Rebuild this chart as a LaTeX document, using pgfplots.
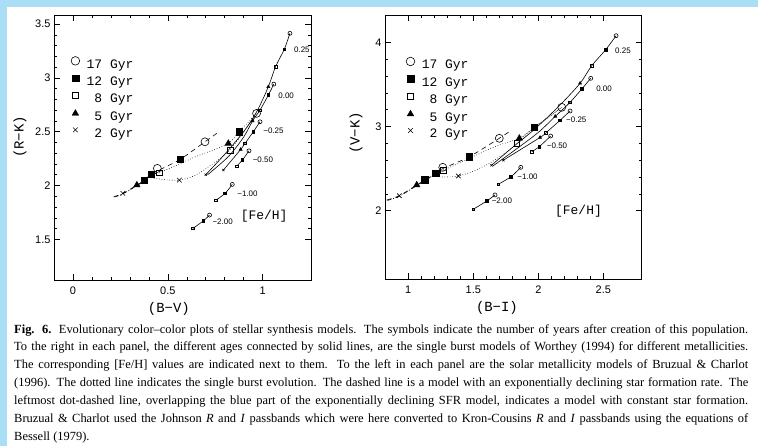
\documentclass[border=0pt]{standalone}
\usepackage{fontspec}
\setmainfont{Liberation Serif}
\newfontfamily\sansf{Liberation Sans}
\newfontfamily\monof{Liberation Mono}
\usepackage{pgfplots}
\pgfplotsset{compat=1.18}
\definecolor{bandblue}{RGB}{170,222,247}

% small marks of the Worthey tracks, big marks of the Bruzual & Charlot tracks
\pgfplotsset{
  panel/.style={scale only axis, anchor=south west, clip=false,
    axis line style={line width=0.7pt}, tick align=inside,
    major tick length=6bp, minor tick length=3bp, minor tick num=4,
    tick style={line width=0.5pt,black},
    /pgf/number format/assume math mode=true,
    tick label style={font=\sansf\fontsize{11}{11}\selectfont},
    xticklabel style={yshift=-3bp},
    label style={font=\monof\fontsize{14}{14}\selectfont},
    legend style={draw=none, fill=none, anchor=north west, inner sep=0pt,
      font=\monof\fontsize{13}{13}\selectfont, row sep=4.2bp,
      nodes={inner sep=0pt, text height=9bp, text depth=2.5bp}},
    legend cell align=left,
    legend image code/.code={\path (0bp,0bp) (17bp,0bp);
      \draw[##1] plot coordinates {(6bp,4.2bp)};}},
  wtrack/.style={scatter, smooth, forget plot, black, line width=0.6pt,
    point meta=explicit symbolic,
    scatter/classes={
      x={mark=x, mark size=1.6bp, black},
      t={mark=triangle*, mark size=1.7bp, black},
      q={mark=square, mark size=1.3bp, black},
      s={mark=square*, mark size=1.3bp, black},
      c={mark=o, mark size=2bp, black},
      n={mark=*, mark size=0.01bp, opacity=0}}},
  bcmarks/.style={scatter, only marks, forget plot, line width=0.6pt,
    point meta=explicit symbolic,
    scatter/classes={
      x={mark=x, mark size=3.2bp, black},
      t={mark=triangle*, mark size=3.6bp, black},
      q={mark=square, mark size=2.8bp, black, fill=white},
      s={mark=square*, mark size=3.2bp, black},
      c={mark=o, mark size=4bp, black}}},
}
\tikzset{
  flabel/.style={anchor=west, inner sep=0pt, font=\sansf\fontsize{8}{8}\selectfont},
  fehlabel/.style={anchor=west, inner sep=0pt, font=\monof\fontsize{13}{13}\selectfont},
}

\begin{document}
\begin{tikzpicture}
\path[use as bounding box] (0,0) rectangle (758bp,-446bp);
\fill[bandblue] (0,0) rectangle (758bp,-7bp);
\fill[bandblue] (0,0) rectangle (7bp,-446bp);

% ---------------- left panel: (B-V) vs (R-K)
\begin{axis}[panel, at={(54bp,-280bp)}, width=257bp, height=265bp,
  xmin=-0.1, xmax=1.255, ymin=1.122, ymax=3.584,
  xtick={0,0.5,1}, ytick={1.5,2,2.5,3,3.5},
  xlabel={(B−V)}, ylabel={(R−K)},
  xlabel style={at={(axis description cs:0.447,-0.108)}, anchor=center},
  ylabel style={at={(axis description cs:-0.132,0.54)}, anchor=center},
  legend style={at={(axis description cs:0.058,0.844)}}]
\addlegendimage{only marks, mark=o, mark size=4.3bp, line width=0.6pt}
\addlegendentry{17 Gyr}
\addlegendimage{only marks, mark=square*, mark size=3.3bp}
\addlegendentry{12 Gyr}
\addlegendimage{only marks, mark=square, mark size=3bp, line width=0.6pt}
\addlegendentry{\phantom{1}8 Gyr}
\addlegendimage{only marks, mark=triangle*, mark size=3.8bp}
\addlegendentry{\phantom{1}5 Gyr}
\addlegendimage{only marks, mark=x, mark size=3.3bp, line width=0.6pt}
\addlegendentry{\phantom{1}2 Gyr}

% exponentially declining SFR (dashed)
\addplot[forget plot, black, line width=0.6pt, dash pattern=on 5bp off 4bp, smooth] coordinates {
  (0.214,1.895) (0.263,1.927) (0.337,2.004) (0.377,2.05) (0.412,2.106)
  (0.45,2.14) (0.565,2.243) (0.696,2.406) (0.758,2.484)};
% constant SFR (dot-dashed)
\addplot[forget plot, black, line width=0.6pt, dash pattern=on 4bp off 2bp on 1bp off 2bp, smooth] coordinates {
  (0.22,1.893) (0.263,1.922) (0.337,1.998) (0.377,2.043) (0.412,2.10) (0.456,2.118)};
% single burst (dotted)
\addplot[forget plot, black, line width=0.6pt, dotted, smooth] coordinates {
  (0.40,2.075) (0.48,2.055) (0.561,2.05) (0.64,2.09) (0.72,2.18)
  (0.79,2.27) (0.828,2.329) (0.88,2.45) (0.93,2.57) (0.968,2.67)};
\addplot[forget plot, black, line width=0.6pt, dotted, smooth] coordinates {
  (0.456,2.118) (0.55,2.19) (0.65,2.27) (0.74,2.33) (0.819,2.391)
  (0.877,2.50) (0.93,2.60) (0.968,2.67)};
\addplot[bcmarks] table[x=x, y=y, meta=m] {
x     y     m
0.263 1.927 x
0.337 2.004 t
0.377 2.05  s
0.412 2.106 s
0.456 2.118 q
0.445 2.159 c
0.565 2.243 s
0.696 2.406 c
0.561 2.05  x
0.828 2.329 q
0.819 2.391 t
0.877 2.50  s
0.968 2.67  c
};

% Worthey single burst tracks
\addplot[wtrack] table[x=x, y=y, meta=m] {
x     y     m
0.70  2.10  x
0.80  2.29  n
0.90  2.50  n
0.97  2.69  n
1.03  2.917 t
1.068 3.103 q
1.114 3.265 s
1.144 3.414 c
};
\addplot[wtrack] table[x=x, y=y, meta=m] {
x     y     m
0.71  2.10  n
0.82  2.27  n
0.90  2.45  n
0.947 2.60  t
0.986 2.70  q
1.03  2.84  s
1.059 2.942 c
};
\addplot[wtrack] table[x=x, y=y, meta=m] {
x     y     m
0.793 2.143 x
0.884 2.335 t
0.907 2.391 q
0.951 2.50  s
0.986 2.592 c
};
\addplot[wtrack] table[x=x, y=y, meta=m] {
x     y     m
0.863 2.18  q
0.893 2.236 s
0.928 2.322 c
};
\addplot[wtrack] table[x=x, y=y, meta=m] {
x     y     m
0.754 1.864 q
0.802 1.927 s
0.84  2.01  c
};
\addplot[wtrack] table[x=x, y=y, meta=m] {
x     y     m
0.632 1.601 q
0.688 1.672 s
0.72  1.725 c
};
\node[flabel] at (axis cs:1.165,3.26) {0.25};
\node[flabel] at (axis cs:1.082,2.83) {0.00};
\node[flabel] at (axis cs:1.003,2.506) {−0.25};
\node[flabel] at (axis cs:0.947,2.236) {−0.50};
\node[flabel] at (axis cs:0.866,1.92) {−1.00};
\node[flabel] at (axis cs:0.735,1.66) {−2.00};
\node[fehlabel] at (axis cs:0.884,1.718) {[Fe/H]};
\end{axis}

% ---------------- right panel: (B-I) vs (V-K)
\begin{axis}[panel, at={(385bp,-279bp)}, width=256.7bp, height=264bp,
  xmin=0.821, xmax=2.795, ymin=1.189, ymax=4.324,
  xtick={1,1.5,2,2.5}, ytick={2,3,4},
  xlabel={(B−I)}, ylabel={(V−K)},
  xlabel style={at={(axis description cs:0.436,-0.108)}, anchor=center},
  ylabel style={at={(axis description cs:-0.113,0.553)}, anchor=center},
  legend style={at={(axis description cs:0.074,0.841)}}]
\addlegendimage{only marks, mark=o, mark size=4.3bp, line width=0.6pt}
\addlegendentry{17 Gyr}
\addlegendimage{only marks, mark=square*, mark size=3.3bp}
\addlegendentry{12 Gyr}
\addlegendimage{only marks, mark=square, mark size=3bp, line width=0.6pt}
\addlegendentry{\phantom{1}8 Gyr}
\addlegendimage{only marks, mark=triangle*, mark size=3.8bp}
\addlegendentry{\phantom{1}5 Gyr}
\addlegendimage{only marks, mark=x, mark size=3.3bp, line width=0.6pt}
\addlegendentry{\phantom{1}2 Gyr}

\addplot[forget plot, black, line width=0.6pt, dash pattern=on 5bp off 4bp, smooth] coordinates {
  (0.834,2.127) (0.931,2.178) (1.065,2.305) (1.128,2.365) (1.213,2.444)
  (1.265,2.50) (1.469,2.641) (1.70,2.86) (1.795,2.958)};
\addplot[forget plot, black, line width=0.6pt, dash pattern=on 4bp off 2bp on 1bp off 2bp, smooth] coordinates {
  (0.84,2.122) (0.931,2.172) (1.065,2.298) (1.128,2.358) (1.213,2.437) (1.269,2.483)};
\addplot[forget plot, black, line width=0.6pt, dotted, smooth] coordinates {
  (1.18,2.41) (1.27,2.40) (1.385,2.412) (1.50,2.47) (1.62,2.56)
  (1.74,2.68) (1.834,2.80) (1.93,2.94) (2.05,3.08) (2.18,3.228)};
\addplot[forget plot, black, line width=0.6pt, dotted, smooth] coordinates {
  (1.269,2.483) (1.40,2.57) (1.55,2.68) (1.70,2.78) (1.854,2.86)
  (1.967,2.99) (2.08,3.11) (2.18,3.228)};
\addplot[bcmarks] table[x=x, y=y, meta=m] {
x     y     m
0.931 2.178 x
1.065 2.305 t
1.128 2.365 s
1.213 2.444 s
1.269 2.483 q
1.265 2.515 c
1.469 2.641 s
1.70  2.86  c
1.385 2.412 x
1.834 2.80  q
1.854 2.86  t
1.967 2.99  s
2.18  3.228 c
};

\addplot[wtrack] table[x=x, y=y, meta=m] {
x     y     m
1.64  2.54  x
1.80  2.75  n
1.98  2.98  n
2.17  3.26  n
2.321 3.513 t
2.411 3.722 q
2.518 3.912 s
2.598 4.078 c
};
\addplot[wtrack] table[x=x, y=y, meta=m] {
x     y     m
1.65  2.53  n
1.82  2.72  n
2.00  2.93  n
2.13  3.12  t
2.244 3.287 q
2.334 3.445 s
2.403 3.572 c
};
\addplot[wtrack] table[x=x, y=y, meta=m] {
x     y     m
1.731 2.60  x
2.013 2.87  t
2.059 2.926 q
2.167 3.074 s
2.244 3.184 c
};
\addplot[wtrack] table[x=x, y=y, meta=m] {
x     y     m
1.949 2.70  q
2.007 2.76  s
2.095 2.887 c
};
\addplot[wtrack] table[x=x, y=y, meta=m] {
x     y     m
1.692 2.314 q
1.79  2.404 s
1.865 2.515 c
};
\addplot[wtrack] table[x=x, y=y, meta=m] {
x     y     m
1.50  2.017 q
1.603 2.115 s
1.667 2.187 c
};
\node[flabel] at (axis cs:2.59,3.90) {0.25};
\node[flabel] at (axis cs:2.444,3.445) {0.00};
\node[flabel] at (axis cs:2.213,3.077) {−0.25};
\node[flabel] at (axis cs:2.065,2.77) {−0.50};
\node[flabel] at (axis cs:1.838,2.40) {−1.00};
\node[flabel] at (axis cs:1.641,2.115) {−2.00};
\node[fehlabel] at (axis cs:2.128,2.0) {[Fe/H]};
\end{axis}

% ---------------- caption
\node[anchor=base west, inner sep=0pt] at (14bp,-333bp) {\parbox[t]{734bp}{%
\fontsize{12.5}{18}\selectfont\noindent
\makebox[\linewidth][s]{\textbf{Fig. 6.} Evolutionary color–color plots of stellar synthesis models. The symbols indicate the number of years after creation of this population.}\\
\makebox[\linewidth][s]{To the right in each panel, the different ages connected by solid lines, are the single burst models of Worthey (1994) for different metallicities.}\\
\makebox[\linewidth][s]{The corresponding [Fe/H] values are indicated next to them. To the left in each panel are the solar metallicity models of Bruzual \& Charlot}\\
\makebox[\linewidth][s]{(1996). The dotted line indicates the single burst evolution. The dashed line is a model with an exponentially declining star formation rate. The}\\
\makebox[\linewidth][s]{leftmost dot-dashed line, overlapping the blue part of the exponentially declining SFR model, indicates a model with constant star formation.}\\
\makebox[\linewidth][s]{Bruzual \& Charlot used the Johnson \textit{R} and \textit{I} passbands which were here converted to Kron-Cousins \textit{R} and \textit{I} passbands using the equations of}\\
Bessell (1979).}};
\end{tikzpicture}
\end{document}
